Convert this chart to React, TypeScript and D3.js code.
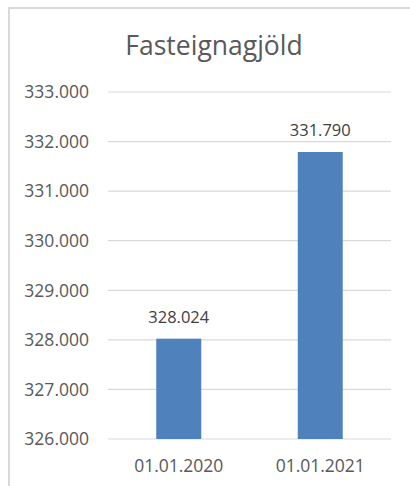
import React from "react";
import * as d3 from "d3";

const categories = ["01.01.2020", "01.01.2021"];
const values = [328.024, 331.79];
const valueLabels = ["328.024", "331.790"];
const yTicks = [326, 327, 328, 329, 330, 331, 332, 333];
const title = "Fasteignagjöld";

const W = 410;
const H = 486;
const FONT = "'Open Sans', sans-serif";

export default function App() {
  const x = d3.scaleBand<string>().domain(categories).range([108, 391]).padding(0);
  const y = d3.scaleLinear().domain([326, 333]).range([439, 92]);
  const barW = x.bandwidth() * 0.318;
  const fmt = (v: number) => d3.format(".3f")(v);

  return (
    <svg
      width={W}
      height={H}
      style={{ position: "absolute", left: 0, top: 0, background: "#fff" }}
    >
      <path d={`M9,${H} V8 H${W}`} fill="none" stroke="#d9d9d9" strokeWidth={2} />
      <text
        x={214}
        y={55}
        textAnchor="middle"
        fontFamily={FONT}
        fontSize={26.5}
        fill="#595959"
      >
        {title}
      </text>
      {yTicks.map((t) => (
        <g key={t}>
          <line x1={108} x2={391} y1={y(t)} y2={y(t)} stroke="#d9d9d9" strokeWidth={1.2} />
          <text
            x={89}
            y={y(t)}
            dy="0.36em"
            textAnchor="end"
            fontFamily={FONT}
            fontSize={17.5}
            fill="#595959"
          >
            {fmt(t)}
          </text>
        </g>
      ))}
      {categories.map((c, i) => {
        const cx = (x(c) as number) + x.bandwidth() / 2;
        return (
          <g key={c}>
            <rect
              x={cx - barW / 2}
              y={y(values[i])}
              width={barW}
              height={y(326) - y(values[i])}
              fill="#4f81bd"
            />
            <text
              x={cx}
              y={y(values[i]) - 16}
              textAnchor="middle"
              fontFamily={FONT}
              fontSize={16.5}
              fill="#404040"
            >
              {valueLabels[i]}
            </text>
            <text
              x={cx}
              y={472}
              textAnchor="middle"
              fontFamily={FONT}
              fontSize={17.5}
              fill="#595959"
            >
              {c}
            </text>
          </g>
        );
      })}
    </svg>
  );
}
